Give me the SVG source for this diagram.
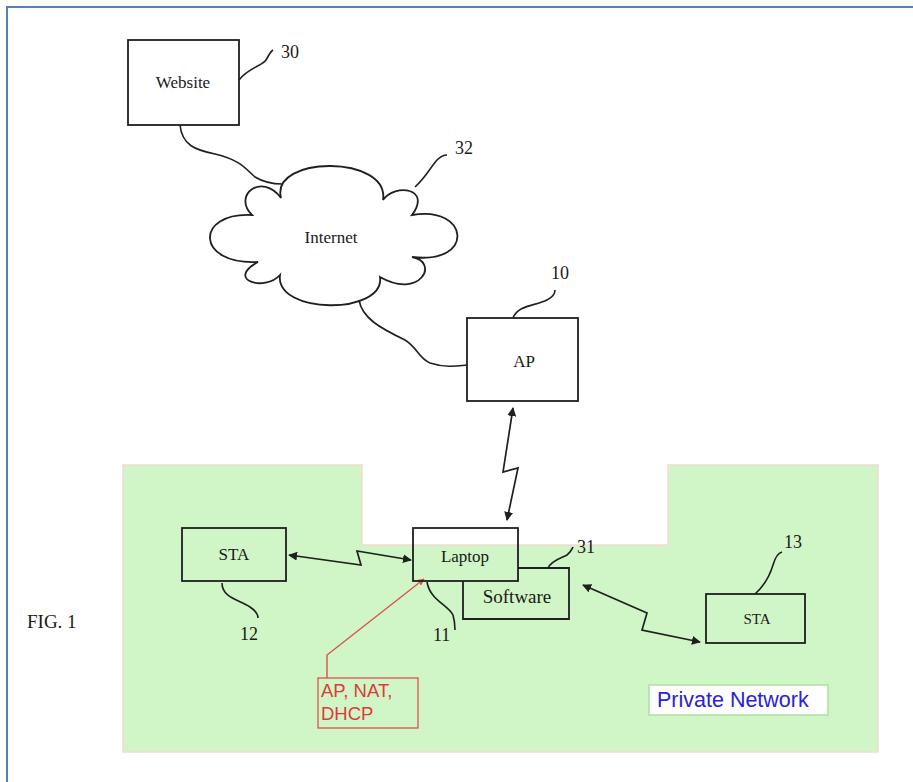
<svg xmlns="http://www.w3.org/2000/svg" width="913" height="782" viewBox="0 0 913 782">
  <defs>
    <style>
      .box { fill: none; stroke: #1f1f1f; stroke-width: 1.8; }
      .line { fill: none; stroke: #1f1f1f; stroke-width: 1.6; }
      .lbl { font-family: "Liberation Serif", "Times New Roman", serif; font-size: 17px; fill: #1a1a1a; text-anchor: middle; }
      .num { font-family: "Liberation Serif", "Times New Roman", serif; font-size: 18px; fill: #1a1a1a; }
      .wire { fill: none; stroke: #1f1f1f; stroke-width: 1.7; marker-start: url(#tip); marker-end: url(#tip); }
    </style>
    <marker id="tip" viewBox="0 0 10 10" refX="9" refY="5" markerWidth="9" markerHeight="9" markerUnits="userSpaceOnUse" orient="auto-start-reverse">
      <path d="M0,0 L10,5 L0,10 Z" fill="#1f1f1f"/>
    </marker>
    <marker id="redtip" viewBox="0 0 10 10" refX="9" refY="5" markerWidth="7" markerHeight="7" markerUnits="userSpaceOnUse" orient="auto">
      <path d="M0,0 L10,5 L0,10 Z" fill="#d9534f"/>
    </marker>
  </defs>

  <!-- page frame -->
  <rect x="0" y="0" width="913" height="782" fill="#ffffff"/>
  <path d="M7,782 V7 H913" fill="none" stroke="#4f81bd" stroke-width="2"/>

  <!-- private network area -->
  <path d="M123,465 H362 V545 H668 V465 H878 V752 H123 Z" fill="#d0f5c6" stroke="#f1dcd3" stroke-width="1.5"/>

  <text x="27" y="628" class="num" style="font-size:19px">FIG. 1</text>

  <!-- connectors -->
  <g id="connectors">
    <!-- wired links -->
    <path class="line" d="M180,125 C182,145 195,150 215,154 C240,160 245,168 255,177 C265,183 275,184 282,184"/>
    <path class="line" d="M359,300 C362,318 380,328 405,340 C418,348 418,358 430,363 C445,368 458,366 467,365"/>
    <!-- wireless links -->
    <path class="wire" d="M513,408 L503,472 L518,468 L507,520"/>
    <path class="wire" d="M289,555 L361,565 L357,551 L411,560"/>
    <path class="wire" d="M583,585 L647,613 L642,630 L700,642"/>
    <!-- annotation pointer -->
    <path d="M327,678 V655 L424,579" fill="none" stroke="#d9534f" stroke-width="1.4" marker-end="url(#redtip)"/>
  </g>

  <!-- Website -->
  <g id="website">
    <rect class="box" x="128" y="40" width="111" height="85"/>
    <text class="lbl" x="183" y="88">Website</text>
    <path class="line" d="M239,80 C248,68 262,66 266,60 C269,55 270,52 273,50"/>
    <text class="num" x="281" y="58">30</text>
  </g>

  <!-- Internet cloud -->
  <g id="internet">
    <path class="box" d="M281,198 C270,155 390,155 383,200 C395,183 432,188 412,215 C470,205 475,265 412,257 C440,262 420,300 380,277 C385,315 275,315 280,275 C265,292 225,280 258,262 C195,265 195,212 252,215 C232,195 262,172 281,198 Z" fill="#ffffff"/>
    <text class="lbl" x="331" y="243">Internet</text>
    <path class="line" d="M415,187 C425,178 430,168 437,160 C441,156 444,155 447,155"/>
    <text class="num" x="455" y="154">32</text>
  </g>

  <!-- AP -->
  <g id="ap">
    <rect class="box" x="467" y="318" width="111" height="83"/>
    <text class="lbl" x="524" y="367">AP</text>
    <path class="line" d="M513,318 C518,305 535,306 547,300 C553,297 555,293 555,290"/>
    <text class="num" x="551" y="279">10</text>
  </g>

  <!-- Software -->
  <g id="software">
    <path class="box" d="M518,568 H569 V619 H463 V581"/>
    <text class="lbl" x="517" y="603" style="font-size:19px">Software</text>
    <path class="line" d="M548,568 C552,560 562,558 567,555 C571,552 572,549 573,547"/>
    <text class="num" x="577" y="553">31</text>
  </g>

  <!-- Laptop -->
  <g id="laptop">
    <rect class="box" x="413" y="528" width="105" height="53"/>
    <text class="lbl" x="465" y="562">Laptop</text>
    <path class="line" d="M427,582 C430,600 448,605 453,615 C455,622 455,627 455,630"/>
    <text class="num" x="433" y="641">11</text>
  </g>

  <!-- STA 12 -->
  <g id="sta12">
    <rect class="box" x="182" y="528" width="104" height="53"/>
    <text class="lbl" x="234" y="560">STA</text>
    <path class="line" d="M222,583 C222,598 240,600 250,607 C256,611 258,614 258,618"/>
    <text class="num" x="240" y="640">12</text>
  </g>

  <!-- STA 13 -->
  <g id="sta13">
    <rect class="box" x="706" y="594" width="99" height="49"/>
    <text class="lbl" x="757" y="624" style="font-size:15px">STA</text>
    <path class="line" d="M755,594 C765,585 770,575 773,565 C775,558 778,553 782,552"/>
    <text class="num" x="784" y="548">13</text>
  </g>

  <!-- AP/NAT/DHCP note -->
  <g id="note">
    <rect x="318" y="678" width="100" height="50" fill="none" stroke="#e05050" stroke-width="1.3"/>
    <text x="321" y="697" font-family="Liberation Sans, Arial, sans-serif" font-size="18.5" fill="#e03a3a">AP, NAT,</text>
    <text x="321" y="720" font-family="Liberation Sans, Arial, sans-serif" font-size="18.5" fill="#e03a3a">DHCP</text>
  </g>

  <!-- Private Network label -->
  <g id="private-network">
    <rect x="649" y="685" width="179" height="30" fill="#ffffff" stroke="#a6dc96" stroke-width="1.3"/>
    <text x="657" y="707" font-family="Liberation Sans, Arial, sans-serif" font-size="21.5" fill="#2a22dc">Private Network</text>
  </g>
</svg>
